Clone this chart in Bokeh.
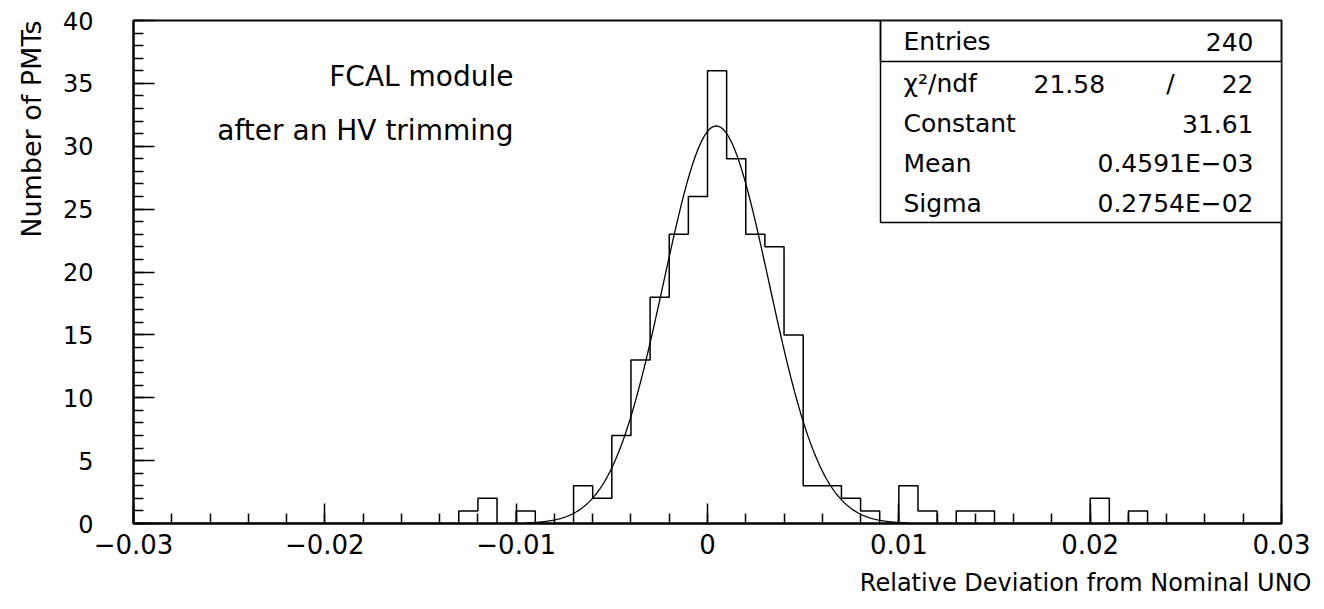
import numpy as np
from bokeh.plotting import figure
from bokeh.models import (Range1d, SingleIntervalTicker, CustomJSTickFormatter,
                          Label, BoxAnnotation, Title)
from bokeh.embed import file_html
from bokeh.resources import INLINE

# ---- data -------------------------------------------------------------
x_min, x_max, bin_width = -0.03, 0.03, 0.001
# counts per 0.001-wide bin, starting at -0.030
counts = [0, 0, 0, 0, 0, 0, 0, 0, 0, 0,      # -0.030 .. -0.021
          0, 0, 0, 0, 0, 0, 0, 1, 2, 0,      # -0.020 .. -0.011
          1, 0, 0, 3, 2, 7, 13, 18, 23, 26,  # -0.010 .. -0.001
          36, 29, 23, 22, 15, 3, 3, 2, 1, 0,  # 0.000 .. 0.009
          3, 1, 0, 1, 1, 0, 0, 0, 0, 0,      # 0.010 .. 0.019
          2, 0, 1, 0, 0, 0, 0, 0, 0, 0]      # 0.020 .. 0.029

entries = 240
chi2, ndf = 21.58, 22
fit_constant = 31.61
fit_mean = 0.4591e-03
fit_sigma = 0.2754e-02
fit_range = (-0.0095, 0.0105)

x_title = "Relative Deviation from Nominal UNO"
y_title = "Number of PMTs"
note_lines = ["FCAL module", "after an HV trimming"]

# ---- derived ------------------------------------------------------------
edges = x_min + bin_width * np.arange(len(counts) + 1)
step_x = np.concatenate([[edges[0]], edges])
step_y = np.concatenate([[0], counts, [0]])

fx = np.linspace(fit_range[0], fit_range[1], 500)
fy = fit_constant * np.exp(-0.5 * ((fx - fit_mean) / fit_sigma) ** 2)

FONT = "DejaVu Sans"

p = figure(width=1324, height=609, x_range=Range1d(x_min, x_max), y_range=Range1d(0, 40),
           output_backend="svg", toolbar_location=None,
           min_border_left=133, min_border_right=43, min_border_top=20, min_border_bottom=86)
p.xgrid.visible = False
p.ygrid.visible = False
p.background_fill_color = "white"
p.border_fill_color = "white"
p.outline_line_color = "black"
p.outline_line_width = 2
p.outline_line_alpha = 1

# axes
p.xaxis.ticker = SingleIntervalTicker(interval=0.01, num_minor_ticks=5)
p.yaxis.ticker = SingleIntervalTicker(interval=5, num_minor_ticks=5)
p.xaxis.formatter = CustomJSTickFormatter(code="""
    if (Math.abs(tick) < 1e-9) return '0';
    return (tick < 0 ? '\u2212' : '') + Math.abs(tick).toFixed(2);
""")
for ax in (p.xaxis, p.yaxis):
    ax.axis_line_color = "black"
    ax.axis_line_width = 2
    ax.major_tick_line_color = "black"
    ax.minor_tick_line_color = "black"
    ax.major_tick_line_width = 1.5
    ax.minor_tick_line_width = 1.5
    ax.major_tick_out = 0
    ax.minor_tick_out = 0
    ax.major_label_text_color = "black"
    ax.major_label_text_font = FONT
p.xaxis.major_tick_in = 20
p.xaxis.minor_tick_in = 10
p.yaxis.major_tick_in = 21
p.yaxis.minor_tick_in = 10
p.xaxis.major_label_text_font_size = "26px"
p.yaxis.major_label_text_font_size = "24px"
p.xaxis.major_label_standoff = 10
p.yaxis.major_label_standoff = 40

# axis titles as side titles
p.add_layout(Title(text=x_title, align="right", offset=-30, standoff=20,
                   text_font=FONT, text_font_size="24px", text_font_style="normal",
                   text_color="black"), "below")
p.add_layout(Title(text=y_title, align="right", standoff=26,
                   text_font=FONT, text_font_size="27px", text_font_style="normal",
                   text_color="black"), "left")

# histogram outline and fit
p.step(step_x, step_y, mode="after", line_color="black", line_width=1.5)
p.line(fx, fy, line_color="black", line_width=1.3)

# px -> data helpers for annotation placement inside the frame
def dx(px):
    return x_min + (px - 133) * (x_max - x_min) / (1281 - 133)

def dy(py):
    return (523 - py) * 40 / (523 - 20)

# stats box
p.add_layout(BoxAnnotation(left=dx(880), right=x_max, bottom=dy(222), top=40,
                           fill_color="white", fill_alpha=1, line_color="black",
                           line_width=1.5, line_alpha=1))
p.add_layout(BoxAnnotation(left=dx(880), right=x_max, bottom=dy(61), top=40,
                           fill_alpha=0, line_color="black", line_width=1.5, line_alpha=1))

def lab(text, x, y, size, align="left", angle=0, baseline="middle"):
    p.add_layout(Label(x=x, y=y, text=text, text_font=FONT, text_font_size=size,
                       text_align=align, text_baseline=baseline, angle=angle,
                       text_color="black"))

SZ = "25px"
lab("Entries", dx(903), dy(41), SZ)
lab(f"{entries}", dx(1253), dy(41), SZ, align="right")
lab("\u03c7\u00b2/ndf", dx(903), dy(83), SZ)
lab(f"{chi2:.2f}", dx(1033), dy(83), SZ)
lab("/", dx(1170), dy(83), SZ, align="center")
lab(f"{ndf}", dx(1253), dy(83), SZ, align="right")
lab("Constant", dx(903), dy(123), SZ)
lab(f"{fit_constant:.2f}", dx(1253), dy(123), SZ, align="right")
lab("Mean", dx(903), dy(163), SZ)
lab("0.4591E\u221203", dx(1253), dy(163), SZ, align="right")
lab("Sigma", dx(903), dy(203), SZ)
lab("0.2754E\u221202", dx(1253), dy(203), SZ, align="right")

# notes
lab(note_lines[0], dx(513), dy(76), "28px", align="right")
lab(note_lines[1], dx(513), dy(130), "28px", align="right")

open("out.html", "w").write(file_html(p, INLINE))
